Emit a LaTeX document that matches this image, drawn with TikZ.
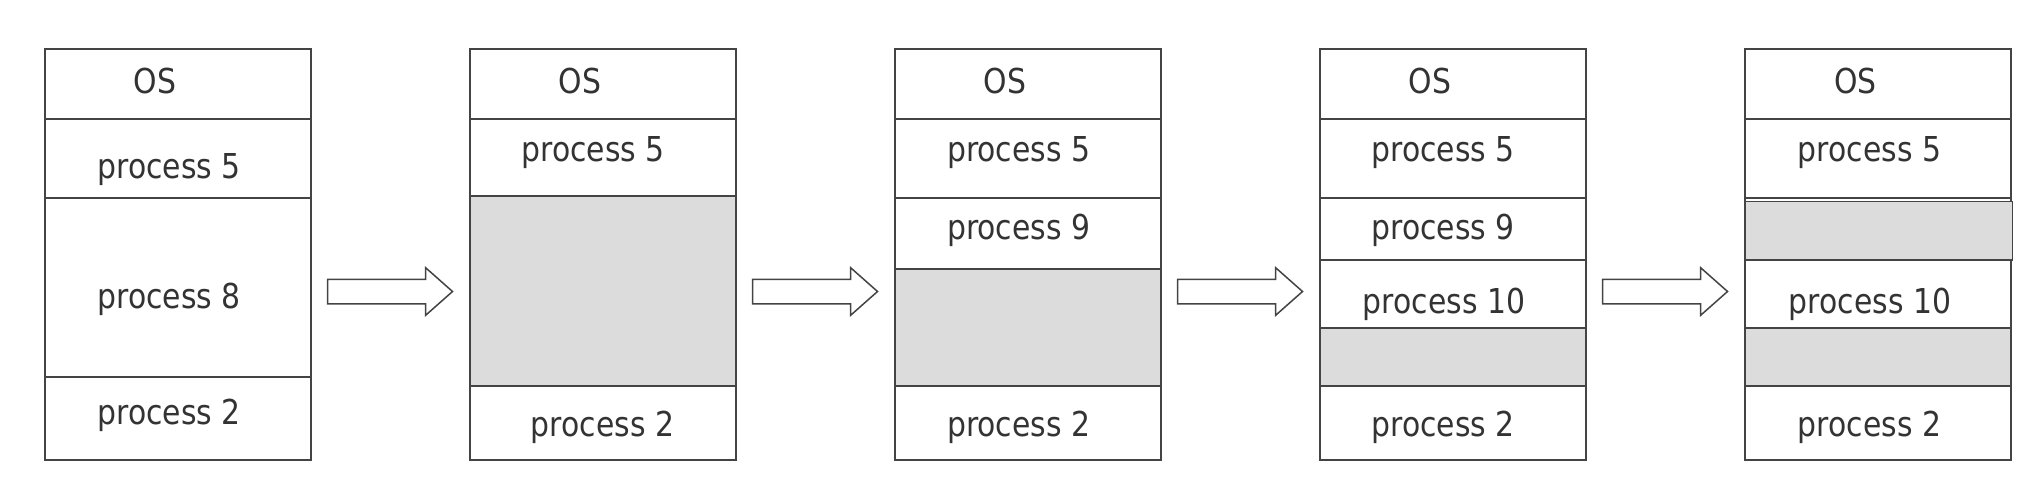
\documentclass[tikz,border=0pt]{standalone}
\usepackage{fontspec}
\setmainfont[FakeStretch=0.87]{DejaVu Sans}
\usetikzlibrary{positioning, shapes.arrows, calc}

\definecolor{edgegray}{HTML}{444444}
\definecolor{freegray}{HTML}{DCDCDC}
\definecolor{txtgray}{HTML}{333333}

\begin{document}
\begin{tikzpicture}[
    x=1pt, y=-1pt,
    font=\fontsize{34.3}{41}\selectfont,
    cell/.style={rectangle, draw=edgegray, line width=1.8pt, fill=white, minimum width=266pt, inner sep=0pt, outer sep=0pt},
    hole/.style={cell, fill=freegray},
    lbl/.style={anchor=base, text=txtgray, inner sep=0pt},
    bigarrow/.style={single arrow, draw=edgegray, line width=1.5pt, fill=white, minimum height=125pt, inner xsep=0pt, inner ysep=11.5pt, single arrow head extend=11.5pt, single arrow tip angle=83, outer sep=0pt, anchor=west}
]
\useasboundingbox (0,0) rectangle (2044,492);

% memory at start
\node[cell, anchor=north west, minimum height=70pt] (b1os) at (45,49) {};
\node[cell, minimum height=79pt, below=0pt of b1os] (b1p5) {};
\node[cell, minimum height=179pt, below=0pt of b1p5] (b1p8) {};
\node[cell, minimum height=83pt, below=0pt of b1p8] (b1p2) {};

% process 8 released
\node[cell, anchor=north west, minimum height=70pt] (b2os) at (470,49) {};
\node[cell, minimum height=77pt, below=0pt of b2os] (b2p5) {};
\node[hole, minimum height=190pt, below=0pt of b2p5] (b2free) {};
\node[cell, minimum height=74pt, below=0pt of b2free] (b2p2) {};

% process 9 loaded
\node[cell, anchor=north west, minimum height=70pt] (b3os) at (895,49) {};
\node[cell, minimum height=79pt, below=0pt of b3os] (b3p5) {};
\node[cell, minimum height=71pt, below=0pt of b3p5] (b3p9) {};
\node[hole, minimum height=117pt, below=0pt of b3p9] (b3free) {};
\node[cell, minimum height=74pt, below=0pt of b3free] (b3p2) {};

% process 10 loaded
\node[cell, anchor=north west, minimum height=70pt] (b4os) at (1320,49) {};
\node[cell, minimum height=79pt, below=0pt of b4os] (b4p5) {};
\node[cell, minimum height=62pt, below=0pt of b4p5] (b4p9) {};
\node[cell, minimum height=68pt, below=0pt of b4p9] (b4p10) {};
\node[hole, minimum height=58pt, below=0pt of b4p10] (b4free) {};
\node[cell, minimum height=74pt, below=0pt of b4free] (b4p2) {};

% process 9 released
\node[cell, anchor=north west, minimum height=70pt] (b5os) at (1745,49) {};
\node[cell, minimum height=79pt, below=0pt of b5os] (b5p5) {};
\node[cell, minimum height=62pt, below=0pt of b5p5] (b5slot) {};
\node[cell, minimum height=68pt, below=0pt of b5slot] (b5p10) {};
\node[hole, minimum height=58pt, below=0pt of b5p10] (b5free) {};
\node[cell, minimum height=74pt, below=0pt of b5free] (b5p2) {};
\node[hole, anchor=north west, minimum width=267.5pt, minimum height=58.5pt] (b5gap) at (1745,201.5) {};

% labels
\node[lbl] (t1os) at (155,93.3) {OS};
\node[lbl] (t1p5) at (169,178.3) {process 5};
\node[lbl] (t1p8) at (169,308.3) {process 8};
\node[lbl] (t1p2) at (169,424.3) {process 2};

\node[lbl] (t2os) at (580,93.3) {OS};
\node[lbl] (t2p5) at (593.3,161.7) {process 5};
\node[lbl] (t2p2) at (602.5,436) {process 2};

\node[lbl] (t3os) at (1005,93.3) {OS};
\node[lbl] (t3p5) at (1018.7,161.7) {process 5};
\node[lbl] (t3p9) at (1018.7,239) {process 9};
\node[lbl] (t3p2) at (1018.7,436) {process 2};

\node[lbl] (t4os) at (1430,93.3) {OS};
\node[lbl] (t4p5) at (1443,161.7) {process 5};
\node[lbl] (t4p9) at (1443,239) {process 9};
\node[lbl] (t4p10) at (1444,313.3) {process 10};
\node[lbl] (t4p2) at (1443,436) {process 2};

\node[lbl] (t5os) at (1855.5,93.3) {OS};
\node[lbl] (t5p5) at (1869.5,161.5) {process 5};
\node[lbl] (t5p10) at (1870,313.3) {process 10};
\node[lbl] (t5p2) at (1869.5,436) {process 2};

% steps
\node[bigarrow] (a12) at ($(b1os.north east)+(16.5,242.5)$) {};
\node[bigarrow] (a23) at ($(b2os.north east)+(16.5,242.5)$) {};
\node[bigarrow] (a34) at ($(b3os.north east)+(16.5,242.5)$) {};
\node[bigarrow] (a45) at ($(b4os.north east)+(16.5,242.5)$) {};
\end{tikzpicture}
\end{document}
